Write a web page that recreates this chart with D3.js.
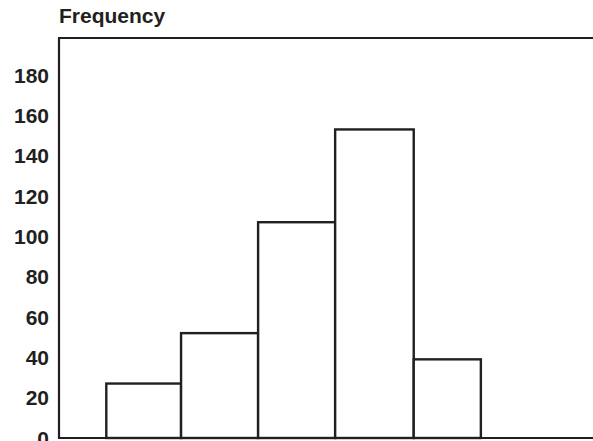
<!DOCTYPE html>
<html>
<head>
<meta charset="utf-8">
<script src="https://cdn.jsdelivr.net/npm/d3@7"></script>
<style>
  html, body { margin: 0; padding: 0; background: #fff; }
  svg { display: block; }
  text { font-family: "Liberation Sans", Arial, sans-serif; font-weight: bold; fill: #231f20; }
</style>
</head>
<body>
<script>
// Data
const binEdges = [0.62, 1.6, 2.61, 3.62, 4.65, 5.53];
const frequencies = [27, 52, 107, 153, 39];
const yTickValues = [0, 20, 40, 60, 80, 100, 120, 140, 160, 180];
const yTitle = "Frequency";

const W = 593, H = 441;
const ink = "#231f20";

const svg = d3.select("body").append("svg").attr("width", W).attr("height", H);

const x = d3.scaleLinear().domain([0, 7]).range([59, 593]);
const y = d3.scaleLinear().domain([0, 180]).range([438, 75]);

const bins = frequencies.map((v, i) => ({ x0: binEdges[i], x1: binEdges[i + 1], v }));

// bars
svg.append("g").selectAll("rect").data(bins).join("rect")
  .attr("x", d => x(d.x0))
  .attr("y", d => y(d.v))
  .attr("width", d => x(d.x1) - x(d.x0))
  .attr("height", d => y(0) - y(d.v))
  .attr("fill", "#fff")
  .attr("stroke", ink)
  .attr("stroke-width", 2.4);

// frame: left axis, top line, bottom line
const topY = 38;
svg.append("line").attr("x1", x(0)).attr("x2", x(0)).attr("y1", topY).attr("y2", y(0))
  .attr("stroke", ink).attr("stroke-width", 2.2);
svg.append("line").attr("x1", x(0) - 1).attr("x2", W).attr("y1", topY).attr("y2", topY)
  .attr("stroke", ink).attr("stroke-width", 2.2);
svg.append("line").attr("x1", x(0) - 1).attr("x2", W).attr("y1", y(0)).attr("y2", y(0))
  .attr("stroke", ink).attr("stroke-width", 2.2);

// y tick labels
svg.append("g").selectAll("text").data(yTickValues).join("text")
  .attr("x", 49)
  .attr("y", d => y(d) + 7.5)
  .attr("text-anchor", "end")
  .attr("font-size", 21)
  .text(d => d);

// title
svg.append("text").attr("x", 59).attr("y", 23).attr("font-size", 21).text(yTitle);
</script>
</body>
</html>
